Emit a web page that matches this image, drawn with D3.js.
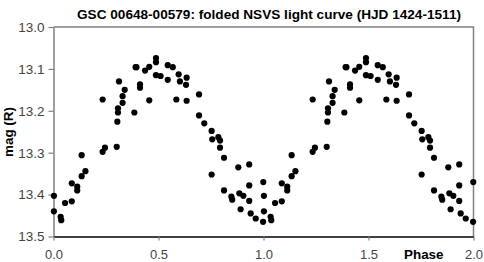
<!DOCTYPE html>
<html>
<head>
<meta charset="utf-8">
<script src="https://cdn.jsdelivr.net/npm/d3@7"></script>
<style>
  html, body { margin: 0; padding: 0; background: #fff; }
  svg { display: block; }
</style>
</head>
<body>
<svg id="chart" width="484" height="262"></svg>
<script>
// ---- data ----
const title = "GSC 00648-00579: folded NSVS light curve (HJD 1424-1511)";
const xTicks = [0, 0.5, 1.0, 1.5, 2.0];
const yTicks = [13.0, 13.1, 13.2, 13.3, 13.4, 13.5];
// folded phase (0..1) and R magnitude of each observation
const phase = [0.002, 0.002, 0.034, 0.037, 0.055, 0.087, 0.087, 0.113, 0.113, 0.134,
               0.134, 0.152, 0.234, 0.245, 0.234, 0.301, 0.304, 0.307, 0.307, 0.329,
               0.329, 0.339, 0.312, 0.385, 0.391, 0.395, 0.412, 0.412, 0.436, 0.456,
               0.456, 0.488, 0.488, 0.488, 0.510, 0.544, 0.568, 0.544, 0.585, 0.596,
               0.602, 0.634, 0.631, 0.634, 0.693, 0.693, 0.718, 0.753, 0.756, 0.785,
               0.793, 0.793, 0.812, 0.753, 0.812, 0.847, 0.851, 0.880, 0.885, 0.904,
               0.891, 0.932, 0.932, 0.932, 0.939, 0.963, 0.999, 0.998];
const mag   = [13.403, 13.440, 13.453, 13.461, 13.420, 13.416, 13.373, 13.381, 13.390, 13.356,
               13.306, 13.344, 13.298, 13.288, 13.173, 13.286, 13.226, 13.204, 13.194, 13.181,
               13.165, 13.150, 13.130, 13.204, 13.096, 13.096, 13.137, 13.145, 13.104, 13.095,
               13.175, 13.074, 13.084, 13.115, 13.117, 13.091, 13.096, 13.126, 13.173, 13.113,
               13.130, 13.121, 13.138, 13.176, 13.161, 13.211, 13.230, 13.248, 13.268, 13.263,
               13.271, 13.288, 13.312, 13.352, 13.390, 13.405, 13.412, 13.335, 13.397, 13.403,
               13.435, 13.328, 13.378, 13.415, 13.445, 13.457, 13.370, 13.465];
// the folded curve is shown over two cycles
const cycles = [0, 1];

// ---- layout ----
const mLeft = 53.5, mRight = 473.5, mTop = 27, mBottom = 236.5;
const svg = d3.select("#chart");
const x = d3.scaleLinear().domain([0, 2]).range([mLeft, mRight]);
const y = d3.scaleLinear().domain([13.0, 13.5]).range([mTop, mBottom]);

// plot frame (top and right)
svg.append("path")
  .attr("d", `M${mLeft},${mTop}H${mRight}V${mBottom}`)
  .attr("fill", "none").attr("stroke", "#808080").attr("stroke-width", 1.5);

// y axis
const yAxis = svg.append("g").attr("transform", `translate(${mLeft},0)`)
  .call(d3.axisLeft(y).tickValues(yTicks).tickFormat(d3.format(".1f")).tickSize(5).tickSizeOuter(0));
yAxis.select(".domain").attr("stroke", "#808080").attr("stroke-width", 1.5);
yAxis.selectAll(".tick line").attr("stroke", "#808080").attr("stroke-width", 1.2);
yAxis.selectAll(".tick text")
  .attr("x", -9)
  .attr("font-family", "Liberation Sans, Arial, sans-serif")
  .attr("font-size", 13.5).attr("fill", "#444");

// x axis
const xAxis = svg.append("g").attr("transform", `translate(0,${mBottom})`)
  .call(d3.axisBottom(x).tickValues(xTicks).tickFormat(d3.format(".1f")).tickSize(4).tickSizeOuter(0));
xAxis.select(".domain").attr("stroke", "#000").attr("stroke-width", 1.3);
xAxis.selectAll(".tick line").attr("stroke", "#808080").attr("stroke-width", 1.2);
xAxis.selectAll(".tick text")
  .attr("y", 0).attr("dy", 0)
  .attr("transform", "translate(0,22.5)")
  .attr("font-family", "Liberation Sans, Arial, sans-serif")
  .attr("font-size", 13).attr("fill", "#444");

// points
const pts = [];
cycles.forEach(c => phase.forEach((p, i) => pts.push({p: p + c, m: mag[i]})));
svg.append("g").selectAll("circle").data(pts).join("circle")
  .attr("cx", d => x(d.p)).attr("cy", d => y(d.m))
  .attr("r", 3.1).attr("fill", "#000");

// title
svg.append("text")
  .attr("x", 269).attr("y", 19).attr("text-anchor", "middle")
  .attr("font-family", "Liberation Sans, Arial, sans-serif")
  .attr("font-weight", "bold").attr("font-size", 12.5)
  .attr("textLength", 384).attr("lengthAdjust", "spacingAndGlyphs")
  .text(title);

// y label
svg.append("text")
  .attr("transform", "translate(13,132) rotate(-90)")
  .attr("text-anchor", "middle")
  .attr("font-family", "Liberation Sans, Arial, sans-serif")
  .attr("font-weight", "bold").attr("font-size", 12.5)
  .attr("textLength", 50).attr("lengthAdjust", "spacingAndGlyphs")
  .text("mag (R)");

// x label
svg.append("text")
  .attr("x", 404).attr("y", 259)
  .attr("font-family", "Liberation Sans, Arial, sans-serif")
  .attr("font-weight", "bold").attr("font-size", 13)
  .attr("textLength", 39.5).attr("lengthAdjust", "spacingAndGlyphs")
  .text("Phase");
</script>
</body>
</html>
